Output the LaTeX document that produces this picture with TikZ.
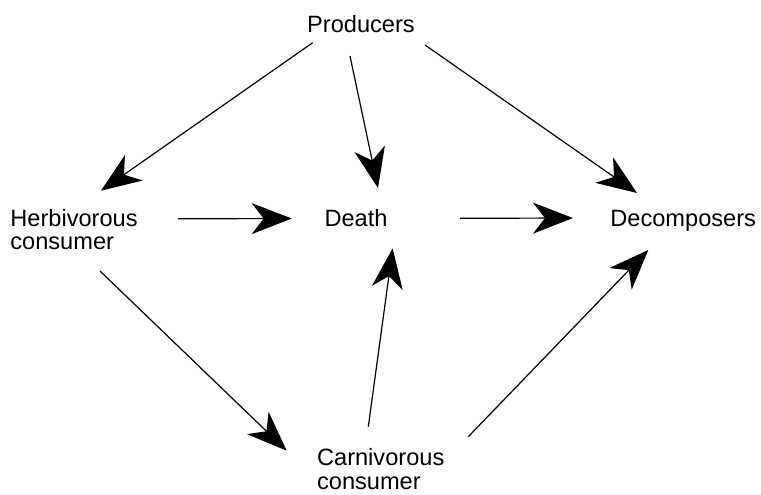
\documentclass[tikz,border=0pt]{standalone}
\usepackage{fontspec}
\setmainfont{Liberation Sans}
\usetikzlibrary{arrows.meta}

\begin{document}
\begin{tikzpicture}[x=0.5pt,y=-0.5pt,
    >={Stealth[length=20pt,width=15.5pt,inset=6pt]},
    label/.style={inner sep=0pt,font=\fontsize{11.8}{11.7}\selectfont,align=left},
    flow/.style={->,line width=0.6pt}]
  \useasboundingbox (0,0) rectangle (761,494);
  % the five groups
  \node[label,anchor=base] (prod) at (361,32.5) {Producers};
  \node[label,anchor=north west] (herb) at (10,208.5) {Herbivorous\\consumer};
  \node[label,anchor=base] (death) at (356,226) {Death};
  \node[label,anchor=base west] (decomp) at (610,226.7) {Decomposers};
  \node[label,anchor=north west] (carn) at (316.7,448.3) {Carnivorous\\consumer};
  % who ends up where
  \draw[flow] ([shift={(-48.3,10.2)}]prod.base) -- ([shift={(91,-17.8)}]herb.north west);
  \draw[flow] ([shift={(-11,23.5)}]prod.base) -- ([shift={(22,-38)}]death.base);
  \draw[flow] ([shift={(64,12.5)}]prod.base) -- ([shift={(27,-33.7)}]decomp.base west);
  \draw[flow] ([shift={(168,10.3)}]herb.north west) -- ([shift={(-64.3,-7.5)}]death.base);
  \draw[flow] ([shift={(104,-7.7)}]death.base) -- ([shift={(-37,-8.7)}]decomp.base west);
  \draw[flow] ([shift={(90,62.5)}]herb.north west) -- ([shift={(-30,2.4)}]carn.north west);
  \draw[flow] ([shift={(51.6,-21.6)}]carn.north west) -- ([shift={(36.7,22.3)}]death.base);
  \draw[flow] ([shift={(151.6,-11.6)}]carn.north west) -- ([shift={(38.3,23.3)}]decomp.base west);
\end{tikzpicture}
\end{document}
